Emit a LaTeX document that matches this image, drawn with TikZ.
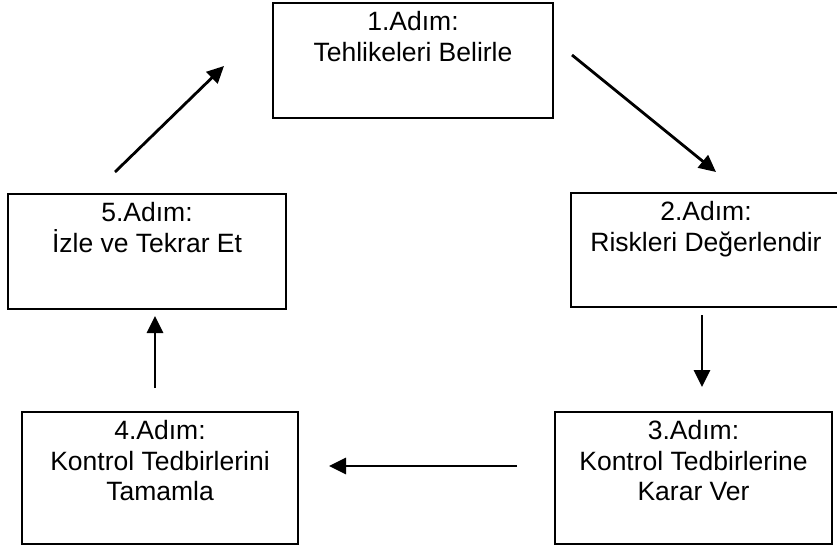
\documentclass[tikz,border=0pt]{standalone}
\usepackage{fontspec}
\setmainfont{Liberation Sans}
\usetikzlibrary{arrows.meta}
\begin{document}
\begin{tikzpicture}[x=1pt,y=-1pt,
  box/.style={draw=black, line width=1.4pt, rectangle, inner sep=0pt},
  txt/.style={anchor=north, inner sep=0pt, align=center,
    font=\fontsize{26.5pt}{30.5pt}\selectfont},
  arr/.style={line width=2.8pt, -{Triangle[length=17pt,width=16pt]}}]
\useasboundingbox (0,0) rectangle (837,546);
\clip (0,0) rectangle (837,546);
\fill[white] (0,0) rectangle (837,546);
% boxes
\node[box, minimum width=280pt, minimum height=115pt] (b1) at (413,60.5) {};
\node[box, minimum width=270pt, minimum height=114pt] (b2) at (706,250) {};
\node[box, minimum width=277pt, minimum height=132pt] (b3) at (693.5,478) {};
\node[box, minimum width=276pt, minimum height=132pt] (b4) at (160,478) {};
\node[box, minimum width=278pt, minimum height=115pt] (b5) at (147,251.5) {};
% texts
\node[txt] (t1) at ([yshift=-9pt]b1.north) {1.Adım:\\Tehlikeleri Belirle};
\node[txt] (t2) at ([yshift=-9pt]b2.north) {2.Adım:\\Riskleri Değerlendir};
\node[txt] (t3) at ([yshift=-9pt]b3.north) {3.Adım:\\Kontrol Tedbirlerine\\Karar Ver};
\node[txt] (t4) at ([yshift=-9pt]b4.north) {4.Adım:\\Kontrol Tedbirlerini\\Tamamla};
\node[txt] (t5) at ([yshift=-9pt]b5.north) {5.Adım:\\İzle ve Tekrar Et};
% arrow ends
\coordinate (a1s) at (572,55);
\coordinate (a1e) at (716,172);
\coordinate (a2s) at (702,315);
\coordinate (a2e) at (702,387);
\coordinate (a3s) at (517,466);
\coordinate (a3e) at (329,466);
\coordinate (a4s) at (155,388);
\coordinate (a4e) at (155,316);
\coordinate (a5s) at (115,172);
\coordinate (a5e) at (224,66);
\draw[arr] (a1s) -- (a1e);
\draw[arr] (a2s) -- (a2e);
\draw[arr] (a3s) -- (a3e);
\draw[arr] (a4s) -- (a4e);
\draw[arr] (a5s) -- (a5e);
\end{tikzpicture}
\end{document}
